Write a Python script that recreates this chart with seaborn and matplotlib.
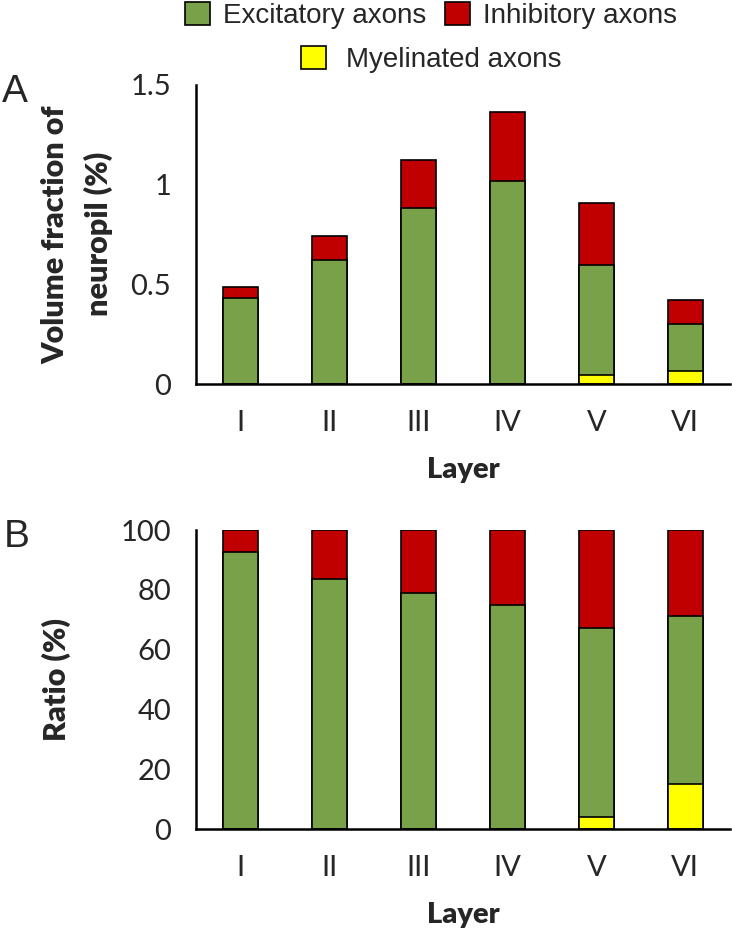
import matplotlib
matplotlib.use("Agg")
import matplotlib.pyplot as plt
import matplotlib.patches as mpatches
import matplotlib.transforms as mtrans
import numpy as np
import pandas as pd
import seaborn as sns

layers = ["I", "II", "III", "IV", "V", "VI"]

# panel A: volume fraction of neuropil (%), segment values
vol_myelinated = [0.0, 0.0, 0.0, 0.0, 0.045, 0.064]
vol_excitatory = [0.43, 0.62, 0.88, 1.015, 0.552, 0.236]
vol_inhibitory = [0.055, 0.12, 0.24, 0.35, 0.31, 0.123]

# panel B: ratio (%), segment values
ratio_myelinated = [0.0, 0.0, 0.0, 0.0, 4.1, 14.9]
ratio_excitatory = [92.6, 83.5, 78.9, 74.9, 63.2, 56.4]
ratio_inhibitory = [7.4, 16.5, 21.1, 25.1, 32.7, 28.7]

GREEN = "#79A14A"
RED = "#C00000"
YELLOW = "#FFFF00"

sns.set_style("white")
plt.rcParams["font.family"] = ["Lato", "DejaVu Sans"]

fig = plt.figure(figsize=(7.32, 9.3), dpi=100)
axA = fig.add_axes([0.268, 0.587, 0.729, 0.322])
axB = fig.add_axes([0.268, 0.1086, 0.729, 0.3214])


def stacked(ax, myel, exc, inh, ylim, yticks, ylabel, ylab_x):
    df = pd.DataFrame({"layer": layers, "myel": myel, "exc": exc, "inh": inh})
    df["top_exc"] = df["myel"] + df["exc"]
    df["total"] = df["top_exc"] + df["inh"]
    # draw cumulative totals from the top segment down
    for col, color in [("total", RED), ("top_exc", GREEN), ("myel", YELLOW)]:
        sns.barplot(data=df, x="layer", y=col, color=color, width=0.4,
                    edgecolor="black", linewidth=1.2, saturation=1, ax=ax)
    ax.set_xlim(-0.5, 5.5)
    ax.set_ylim(*ylim)
    ax.set_yticks(yticks)
    ax.set_yticklabels([f"{t:g}" for t in yticks])
    # Excel-like category ticks between bars
    ax.set_xticks(np.arange(-0.5, 6, 1))
    ax.set_xticklabels([])
    ax.set_xticks(np.arange(6), minor=True)
    ax.set_xticklabels(layers, minor=True)
    ax.tick_params(axis="x", which="major", length=9, width=1.8, direction="out")
    ax.tick_params(axis="x", which="minor", length=0, pad=19, labelsize=21)
    ax.tick_params(axis="y", length=8, width=1.8, direction="out", labelsize=21, pad=10)
    sns.despine(ax=ax)
    for s in ["left", "bottom"]:
        ax.spines[s].set_linewidth(1.8)
        ax.spines[s].set_color("black")
    ax.set_xlabel("Layer", fontsize=21, fontweight="heavy")
    ax.xaxis.set_label_coords(0.5, -0.244)
    ax.set_ylabel(ylabel, fontsize=22, fontweight="heavy", linespacing=1.6)
    ax.yaxis.set_label_coords(ylab_x, 0.5,
                              transform=mtrans.blended_transform_factory(fig.transFigure, ax.transAxes))


stacked(axA, vol_myelinated, vol_excitatory, vol_inhibitory, (0, 1.5),
        [0, 0.5, 1, 1.5], "Volume fraction of\nneuropil (%)", 0.155)
stacked(axB, ratio_myelinated, ratio_excitatory, ratio_inhibitory, (0, 100),
        [0, 20, 40, 60, 80, 100], "Ratio (%)", 0.097)

fig.text(0.003, 0.890, "A", fontsize=28, family="Liberation Sans", va="baseline")
fig.text(0.005, 0.412, "B", fontsize=28, family="Liberation Sans", va="baseline")

h_exc = mpatches.Patch(facecolor=GREEN, edgecolor="black", linewidth=1.2, label="Excitatory axons")
h_inh = mpatches.Patch(facecolor=RED, edgecolor="black", linewidth=1.2, label="Inhibitory axons")
h_mye = mpatches.Patch(facecolor=YELLOW, edgecolor="black", linewidth=1.2, label="Myelinated axons")

leg_font = {"family": "Liberation Sans", "size": 20}
fig.legend(handles=[h_exc, h_inh], loc="center", bbox_to_anchor=(0.589, 0.983),
           ncol=2, frameon=False, prop=leg_font, handlelength=0.9, handleheight=0.9,
           handletextpad=0.47, columnspacing=0.65)
fig.legend(handles=[h_mye], loc="center", bbox_to_anchor=(0.589, 0.936),
           frameon=False, prop=leg_font, handlelength=0.9, handleheight=0.9,
           handletextpad=0.72)

fig.savefig("out.png", dpi=100)
